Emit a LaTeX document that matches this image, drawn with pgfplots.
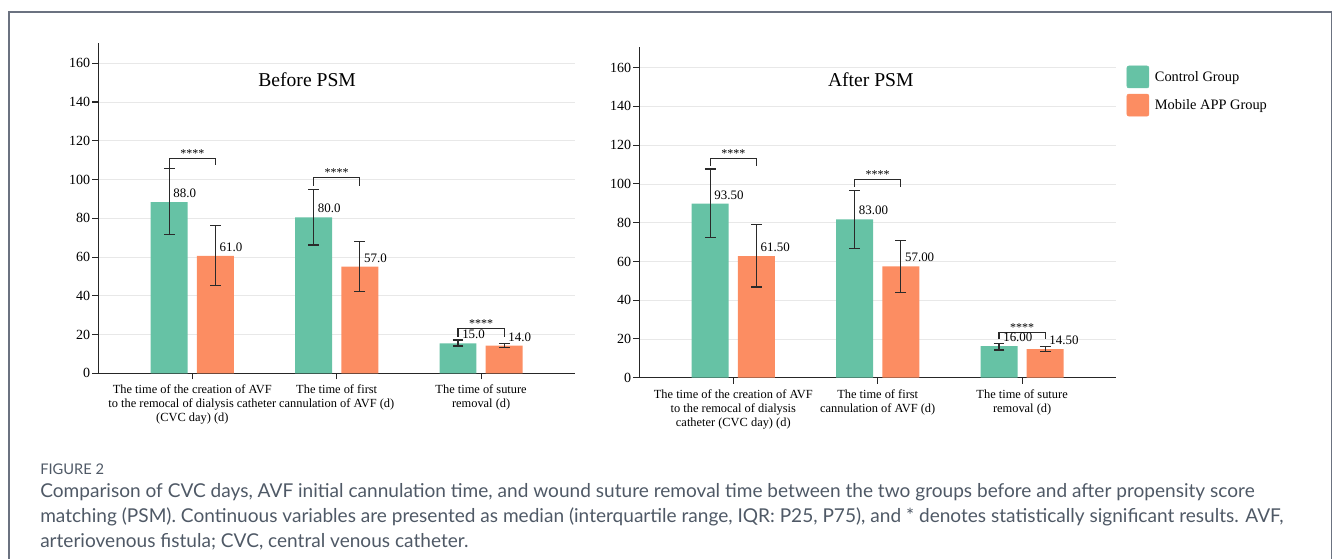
\documentclass[border=0pt]{standalone}
\usepackage{fontspec}
\setmainfont{Liberation Serif}
\newfontfamily\capfont{Lato}
\usepackage{pgfplots}
\pgfplotsset{compat=1.18}
\usepackage{pgfplotstable}
\definecolor{ctrl}{HTML}{66C2A5}
\definecolor{app}{HTML}{FC8D62}
\definecolor{framegray}{HTML}{6B7280}
\definecolor{captext}{HTML}{4F5966}
\definecolor{errc}{HTML}{2A2A2A}

% x: bar centre, y: bar height, ep/em: error bar above/below, lab: printed value
\pgfplotstableread{
x y ep em lab
-0.16 88.3 17.2 16.6 88.0
0.84 80.5 14.5 14.3 80.0
1.84 15.5 1.7 1.4 15.0
}\beforeCtrl
\pgfplotstableread{
x y ep em lab
0.16 60.6 15.6 15.5 61.0
1.16 55.1 12.9 12.8 57.0
2.16 14.3 1.2 0.9 14.0
}\beforeApp
\pgfplotstableread{
x y ep em lab
-0.16 89.8 17.9 17.5 93.50
0.84 81.7 14.8 15.1 83.00
1.84 16.3 1.4 2.0 16.00
}\afterCtrl
\pgfplotstableread{
x y ep em lab
0.16 62.8 16.3 16.0 61.50
1.16 57.5 13.2 13.5 57.00
2.16 14.8 1.2 1.2 14.50
}\afterApp

\pgfplotsset{
  mybase/.style={
    scale only axis, width=357.5pt, height=247.5pt,
    xmin=-0.651, xmax=2.65, ymin=0, ymax=170.3,
    axis x line=bottom, axis y line=left,
    axis line style={-, line width=0.8pt, draw=black!85},
    tick align=outside, major tick length=4.5pt,
    tick style={line width=0.8pt, draw=black!85},
    xtick={0,1,2}, ytick={0,20,...,160},
    ymajorgrids, grid style={line width=0.6pt, draw=black!9},
    yticklabel style={font=\fontsize{10.5}{12}\selectfont, inner sep=1.5pt},
    xticklabel style={align=center, font=\fontsize{9.3}{10.5}\selectfont, anchor=north, inner sep=1pt, yshift=-3pt},
    /pgf/number format/assume math mode=true,
    clip=false,
  },
  barsty/.style={ybar, bar width=0.256, bar shift=0pt, fill=#1, draw=none,
    nodes near coords={\pgfplotspointmeta},
    point meta=explicit symbolic,
    every node near coord/.append style={anchor=south west, inner sep=0pt, xshift=3pt, yshift=3pt, font=\fontsize{9.7}{11}\selectfont, text=black},
    error bars/.cd, y dir=both, y explicit,
    error bar style={line width=0.8pt, draw=errc},
    error mark=-,
    error mark options={rotate=90, mark size=4pt, line width=0.8pt, draw=errc},
    /pgfplots/.cd},
  ctrlleg/.style={legend image code/.code={\fill[ctrl, rounded corners=1.5pt] (0pt,-7.6pt) rectangle (16.5pt,8.9pt);}},
  appleg/.style={legend image code/.code={\fill[app, rounded corners=1.5pt] (0pt,-7.6pt) rectangle (16.5pt,8.9pt);}},
}
\tikzset{stars/.style={anchor=base, inner sep=0pt, font=\fontsize{9}{10}\selectfont},
  brk/.style={line width=0.8pt, draw=errc}}

\begin{document}
\begin{tikzpicture}
\useasboundingbox (0,0) rectangle (999.75pt,-419.25pt);

% ---------- Before PSM ----------
\begin{axis}[mybase, at={(73.725pt,-279.975pt)}, anchor=south west,
  xticklabels={{The time of the creation of AVF\\to the remocal of dialysis catheter\\(CVC day) (d)},
               {The time of first\\cannulation of AVF (d)},
               {The time of suture\\removal (d)}}]
\addplot[barsty=ctrl] table[x=x, y=y, y error plus=ep, y error minus=em, meta=lab] {\beforeCtrl};
\addplot[barsty=app] table[x=x, y=y, y error plus=ep, y error minus=em, meta=lab] {\beforeApp};
\draw[brk] (axis cs:-0.16,105.8) -- (axis cs:-0.16,111) -- (axis cs:0.16,111) -- (axis cs:0.16,107.5);
\node[stars] at (axis cs:0,111.6) {****};
\draw[brk] (axis cs:0.84,96.9) -- (axis cs:0.84,101) -- (axis cs:1.16,101) -- (axis cs:1.16,96.9);
\node[stars] at (axis cs:1,101.6) {****};
\draw[brk] (axis cs:1.84,18.9) -- (axis cs:1.84,22.9) -- (axis cs:2.16,22.9) -- (axis cs:2.16,18.9);
\node[stars] at (axis cs:2,23.5) {****};
\node[font=\fontsize{14.7}{17}\selectfont] at (axis cs:0.795,151.7) {Before PSM};
\end{axis}

% ---------- After PSM ----------
\begin{axis}[mybase, at={(479.475pt,-283.275pt)}, anchor=south west,
  height=247.8pt, ymax=170.5,
  legend style={at={(1.0224,0.9443)}, anchor=north west, draw=none, fill=none,
    inner sep=0pt, outer sep=0pt, row sep=4.2pt, column sep=4.3pt,
    font=\fontsize{10.8}{13}\selectfont, nodes={inner sep=0pt}},
  legend cell align=left,
  xticklabels={{The time of the creation of AVF\\to the remocal of dialysis\\catheter (CVC day) (d)},
               {The time of first\\cannulation of AVF (d)},
               {The time of suture\\removal (d)}}]
\addlegendimage{ctrlleg}\addlegendentry{Control Group}
\addlegendimage{appleg}\addlegendentry{Mobile APP Group}
\addplot[forget plot, barsty=ctrl] table[x=x, y=y, y error plus=ep, y error minus=em, meta=lab] {\afterCtrl};
\addplot[forget plot, barsty=app] table[x=x, y=y, y error plus=ep, y error minus=em, meta=lab] {\afterApp};
\draw[brk] (axis cs:-0.16,109.2) -- (axis cs:-0.16,113.2) -- (axis cs:0.16,113.2) -- (axis cs:0.16,109.2);
\node[stars] at (axis cs:0,113.8) {****};
\draw[brk] (axis cs:0.84,98.6) -- (axis cs:0.84,102.4) -- (axis cs:1.16,102.4) -- (axis cs:1.16,98.6);
\node[stars] at (axis cs:1,103) {****};
\draw[brk] (axis cs:1.84,19.8) -- (axis cs:1.84,23.4) -- (axis cs:2.16,23.4) -- (axis cs:2.16,19.8);
\node[stars] at (axis cs:2,24) {****};
\node[font=\fontsize{14.7}{17}\selectfont] at (axis cs:0.952,154) {After PSM};
\end{axis}

% ---------- frame and caption ----------
\begin{scope}[x=0.75pt, y=-0.75pt]
\draw[framegray, line width=1.1pt] (9,640) -- (9,12) -- (1331.5,12) -- (1331.5,640);
\node[anchor=base west, inner sep=0pt, text=captext, font=\capfont\fontsize{11}{13}\selectfont] at (40,474) {FIGURE 2};
\node[anchor=base west, inner sep=0pt, text=captext, font=\capfont\fontsize{14.3}{16}\selectfont] at (40,497) {Comparison of CVC days, AVF initial cannulation time, and wound suture removal time between the two groups before and after propensity score};
\node[anchor=base west, inner sep=0pt, text=captext, font=\capfont\fontsize{14.3}{16}\selectfont] at (40,522) {matching (PSM). Continuous variables are presented as median (interquartile range, IQR: P25, P75), and * denotes statistically significant results. AVF,};
\node[anchor=base west, inner sep=0pt, text=captext, font=\capfont\fontsize{14.3}{16}\selectfont] at (40,547) {arteriovenous fistula; CVC, central venous catheter.};
\end{scope}
\end{tikzpicture}
\end{document}
